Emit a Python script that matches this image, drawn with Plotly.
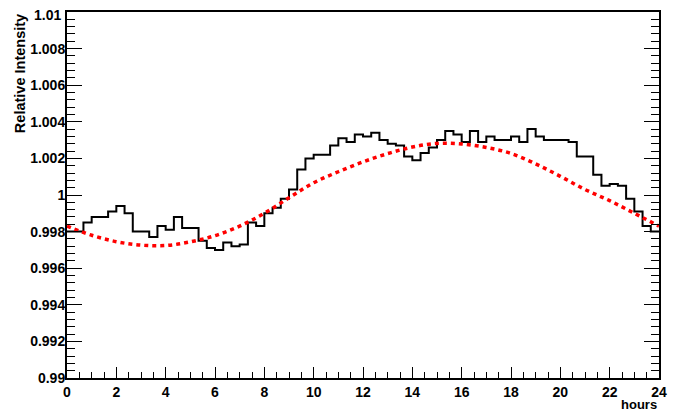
import plotly.graph_objects as go

# Histogram: 72 bins of 20 minutes over 0-24 hours
hist_values = [
    0.9980, 0.9980, 0.9985, 0.9988, 0.9988, 0.9991, 0.9994, 0.9990,
    0.9980, 0.9980, 0.9977, 0.9983, 0.9981, 0.9988, 0.9982, 0.9982,
    0.9975, 0.9971, 0.9970, 0.9974, 0.9972, 0.9973, 0.9985, 0.9983,
    0.9990, 0.9993, 0.9998, 1.0003, 1.0014, 1.0020, 1.0022, 1.0022,
    1.0027, 1.0031, 1.0029, 1.0033, 1.0032, 1.0034, 1.0030, 1.0028,
    1.0027, 1.0021, 1.0019, 1.0023, 1.0026, 1.0030, 1.0035, 1.0033,
    1.0029, 1.0035, 1.0029, 1.0032, 1.0030, 1.0030, 1.0032, 1.0029,
    1.0036, 1.0032, 1.0030, 1.0030, 1.0030, 1.0029, 1.0021, 1.0021,
    1.0011, 1.0005, 1.0006, 1.0005, 0.9998, 0.9991, 0.9983, 0.9980,
]
x_min, x_max = 0, 24

# Fitted curve, read at each hour
fit_hours = list(range(0, 25))
fit_values = [
    0.99830, 0.99780, 0.99745, 0.99726, 0.99724, 0.99744, 0.99778, 0.99830,
    0.99900, 0.99985, 1.00067, 1.00127, 1.00181, 1.00226, 1.00262, 1.00282,
    1.00279, 1.00260, 1.00227, 1.00170, 1.00102, 1.00030, 0.99969, 0.99900,
    0.99830,
]

x_ticks = list(range(0, 25, 2))
y_ticks = [0.99, 0.992, 0.994, 0.996, 0.998, 1.0, 1.002, 1.004, 1.006, 1.008, 1.01]
y_tick_labels = ["0.99", "0.992", "0.994", "0.996", "0.998", "1",
                 "1.002", "1.004", "1.006", "1.008", "1.01"]

n = len(hist_values)
w = (x_max - x_min) / n
edges = [x_min + i * w for i in range(n + 1)]
step_x = edges
step_y = hist_values + [hist_values[-1]]

font_family = "Liberation Sans, Arial, sans-serif"
tick_font = dict(family=font_family, size=14, weight="bold", color="black")

fig = go.Figure()
fig.add_trace(go.Scatter(
    x=step_x, y=step_y, mode="lines", line_shape="hv",
    line=dict(color="black", width=2), showlegend=False, hoverinfo="skip"))
fig.add_trace(go.Scatter(
    x=fit_hours, y=fit_values, mode="lines", line_shape="spline",
    line=dict(color="#ff0000", width=3.5, dash="4px,4px"),
    showlegend=False, hoverinfo="skip"))

# the top tick label would be culled at the figure edge, so it is written as an annotation
top_label = dict(text=y_tick_labels[-1], xref="paper", yref="y",
                 x=0, y=y_ticks[-1], xanchor="right", yanchor="middle",
                 xshift=-4, yshift=-3,
                 showarrow=False, font=tick_font)

# The page body has an 8px margin, so the figure is sized to fill the rest
fig.update_layout(
    width=677, height=405,
    margin=dict(l=59, r=26, t=4, b=34.5),
    paper_bgcolor="white", plot_bgcolor="white",
    font=dict(family=font_family, size=14, color="black"),
    xaxis=dict(
        range=[x_min, x_max], tickvals=x_ticks, ticktext=[str(t) for t in x_ticks],
        ticks="inside", ticklen=11, tickwidth=1, tickcolor="black",
        showline=True, linecolor="black", linewidth=2, mirror=True,
        showgrid=False, zeroline=False, automargin=False,
        tickfont=tick_font,
        minor=dict(dtick=0.5, ticks="inside", ticklen=6, tickwidth=1, tickcolor="black", showgrid=False),
    ),
    yaxis=dict(
        range=[0.99, 1.01], tickvals=y_ticks[:-1], ticktext=y_tick_labels[:-1],
        ticks="inside", ticklen=15, tickwidth=1, tickcolor="black",
        showline=True, linecolor="black", linewidth=2, mirror="ticks",
        showgrid=False, zeroline=False, automargin=False,
        ticklabelstandoff=-3,
        tickfont=tick_font,
        minor=dict(dtick=0.0004, tick0=0.99, ticks="inside", ticklen=8, tickwidth=1, tickcolor="black", showgrid=False),
    ),
    annotations=[
        top_label,
        dict(text="Relative Intensity", xref="paper", yref="paper",
             x=-0.08, y=1.0, xanchor="center", yanchor="top", textangle=-90,
             showarrow=False, font=dict(family=font_family, size=14.5, weight="bold")),
        dict(text="hours", xref="paper", yref="paper",
             x=1.0, y=-0.072, xanchor="right", yanchor="middle",
             showarrow=False, font=dict(family=font_family, size=13, weight="bold")),
    ],
)

fig.write_html("out.html")
